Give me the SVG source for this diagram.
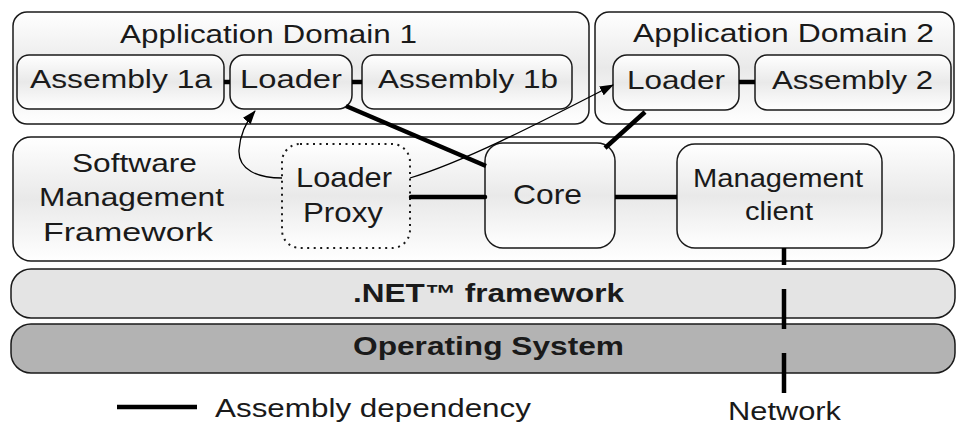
<svg xmlns="http://www.w3.org/2000/svg" width="956" height="424" viewBox="0 0 956 424">
<defs>
<linearGradient id="g" x1="0" y1="0" x2="0" y2="1">
<stop offset="0" stop-color="#ffffff"/>
<stop offset="0.5" stop-color="#e9e9e9"/>
<stop offset="1" stop-color="#ffffff"/>
</linearGradient>
<marker id="ah" viewBox="0 0 14 10" refX="13" refY="5" markerWidth="14" markerHeight="10" markerUnits="userSpaceOnUse" orient="auto">
<path d="M0,0 L14,5 L0,10 Z" fill="#000"/>
</marker>
</defs>
<style>
.box{fill:url(#g);stroke:#1a1a1a;stroke-width:1.5}
.dot{fill:url(#g);stroke:#1a1a1a;stroke-width:2;stroke-dasharray:2 4.5}
.t{font-family:"Liberation Sans",Arial,sans-serif;font-size:25px;fill:#1a1a1a}
.l{font-family:"Liberation Sans",Arial,sans-serif;font-size:28px;fill:#1a1a1a}
.b{font-family:"Liberation Sans",Arial,sans-serif;font-size:25px;font-weight:bold;fill:#1a1a1a}
.thick{stroke:#000;stroke-width:4.5;fill:none}
.thin{stroke:#000;stroke-width:1.3;fill:none}
</style>
<rect width="956" height="424" fill="#ffffff"/>

<g id="appdomain1">
<rect class="box" x="13" y="12" width="576" height="112" rx="14"/>
<text class="t" x="120" y="43" textLength="297" lengthAdjust="spacingAndGlyphs">Application Domain 1</text>
</g>
<g id="appdomain2">
<rect class="box" x="595" y="12" width="359" height="112" rx="14"/>
<text class="t" x="633" y="42" textLength="301" lengthAdjust="spacingAndGlyphs">Application Domain 2</text>
</g>
<g id="assembly1a">
<rect class="box" x="17" y="55" width="207" height="54" rx="12"/>
<text class="t" x="30" y="88" textLength="182" lengthAdjust="spacingAndGlyphs">Assembly 1a</text>
</g>
<g id="loader1">
<rect class="box" x="230" y="55" width="122" height="54" rx="14"/>
<text class="t" x="240" y="88" textLength="102" lengthAdjust="spacingAndGlyphs">Loader</text>
</g>
<g id="assembly1b">
<rect class="box" x="362" y="55" width="210" height="54" rx="12"/>
<text class="t" x="378" y="88" textLength="180" lengthAdjust="spacingAndGlyphs">Assembly 1b</text>
</g>
<g id="loader2">
<rect class="box" x="613" y="55" width="126" height="55" rx="14"/>
<text class="t" x="627" y="89" textLength="98" lengthAdjust="spacingAndGlyphs">Loader</text>
</g>
<g id="assembly2">
<rect class="box" x="755" y="55" width="196" height="55" rx="12"/>
<text class="t" x="772" y="89" textLength="161" lengthAdjust="spacingAndGlyphs">Assembly 2</text>
</g>

<g id="smf">
<rect class="box" x="13" y="137" width="941" height="124" rx="18"/>
<text class="t" x="72" y="172" textLength="125" lengthAdjust="spacingAndGlyphs">Software</text>
<text class="t" x="39" y="206" textLength="185" lengthAdjust="spacingAndGlyphs">Management</text>
<text class="t" x="43" y="241" textLength="170" lengthAdjust="spacingAndGlyphs">Framework</text>
</g>
<g id="loaderproxy">
<rect class="dot" x="282" y="144" width="128" height="104" rx="18"/>
<text class="l" x="296" y="187" textLength="96" lengthAdjust="spacingAndGlyphs">Loader</text>
<text class="l" x="303" y="222" textLength="80" lengthAdjust="spacingAndGlyphs">Proxy</text>
</g>
<g id="core">
<rect class="box" x="485" y="143" width="130" height="105" rx="18"/>
<text class="l" x="513" y="204" textLength="69" lengthAdjust="spacingAndGlyphs">Core</text>
</g>
<g id="mgmtclient">
<rect class="box" x="677" y="144" width="205" height="104" rx="18"/>
<text class="t" x="693" y="187" textLength="170" lengthAdjust="spacingAndGlyphs">Management</text>
<text class="t" x="745" y="220" textLength="68" lengthAdjust="spacingAndGlyphs">client</text>
</g>

<g id="dotnet">
<rect x="11" y="269" width="944" height="49" rx="20" fill="#e4e4e4" stroke="#1a1a1a" stroke-width="1.5"/>
<text class="b" x="353" y="302" textLength="271" lengthAdjust="spacingAndGlyphs">.NET™ framework</text>
</g>
<g id="os">
<rect x="11" y="324" width="944" height="49" rx="20" fill="#b3b3b3" stroke="#1a1a1a" stroke-width="1.5"/>
<text class="b" x="353" y="355" textLength="271" lengthAdjust="spacingAndGlyphs">Operating System</text>
</g>

<g id="connectors">
<line class="thick" x1="224" y1="82" x2="230" y2="82"/>
<line class="thick" x1="352" y1="82" x2="362" y2="82"/>
<line class="thick" x1="739" y1="82" x2="755" y2="82"/>
<line class="thick" x1="346" y1="106" x2="486" y2="166"/>
<line class="thick" x1="645" y1="112" x2="605" y2="148"/>
<line class="thick" x1="615" y1="197" x2="677" y2="197"/>
<line class="thick" x1="411" y1="197" x2="485" y2="197" stroke-linecap="round"/>
<line class="thick" x1="784" y1="248" x2="784" y2="393" stroke-dasharray="17 24 40 24 40"/>
<path class="thin" d="M282,178 C258,178 238,170 239,150 C240,134 246,122 255,111" marker-end="url(#ah)"/>
<path class="thin" d="M410,178 C470,160 560,112 613,85" marker-end="url(#ah)"/>
</g>

<g id="legend">
<line class="thick" x1="117" y1="407" x2="197" y2="407"/>
<text class="t" x="215" y="417" textLength="316" lengthAdjust="spacingAndGlyphs">Assembly dependency</text>
<text class="t" x="728" y="420" textLength="113" lengthAdjust="spacingAndGlyphs">Network</text>
</g>
</svg>
